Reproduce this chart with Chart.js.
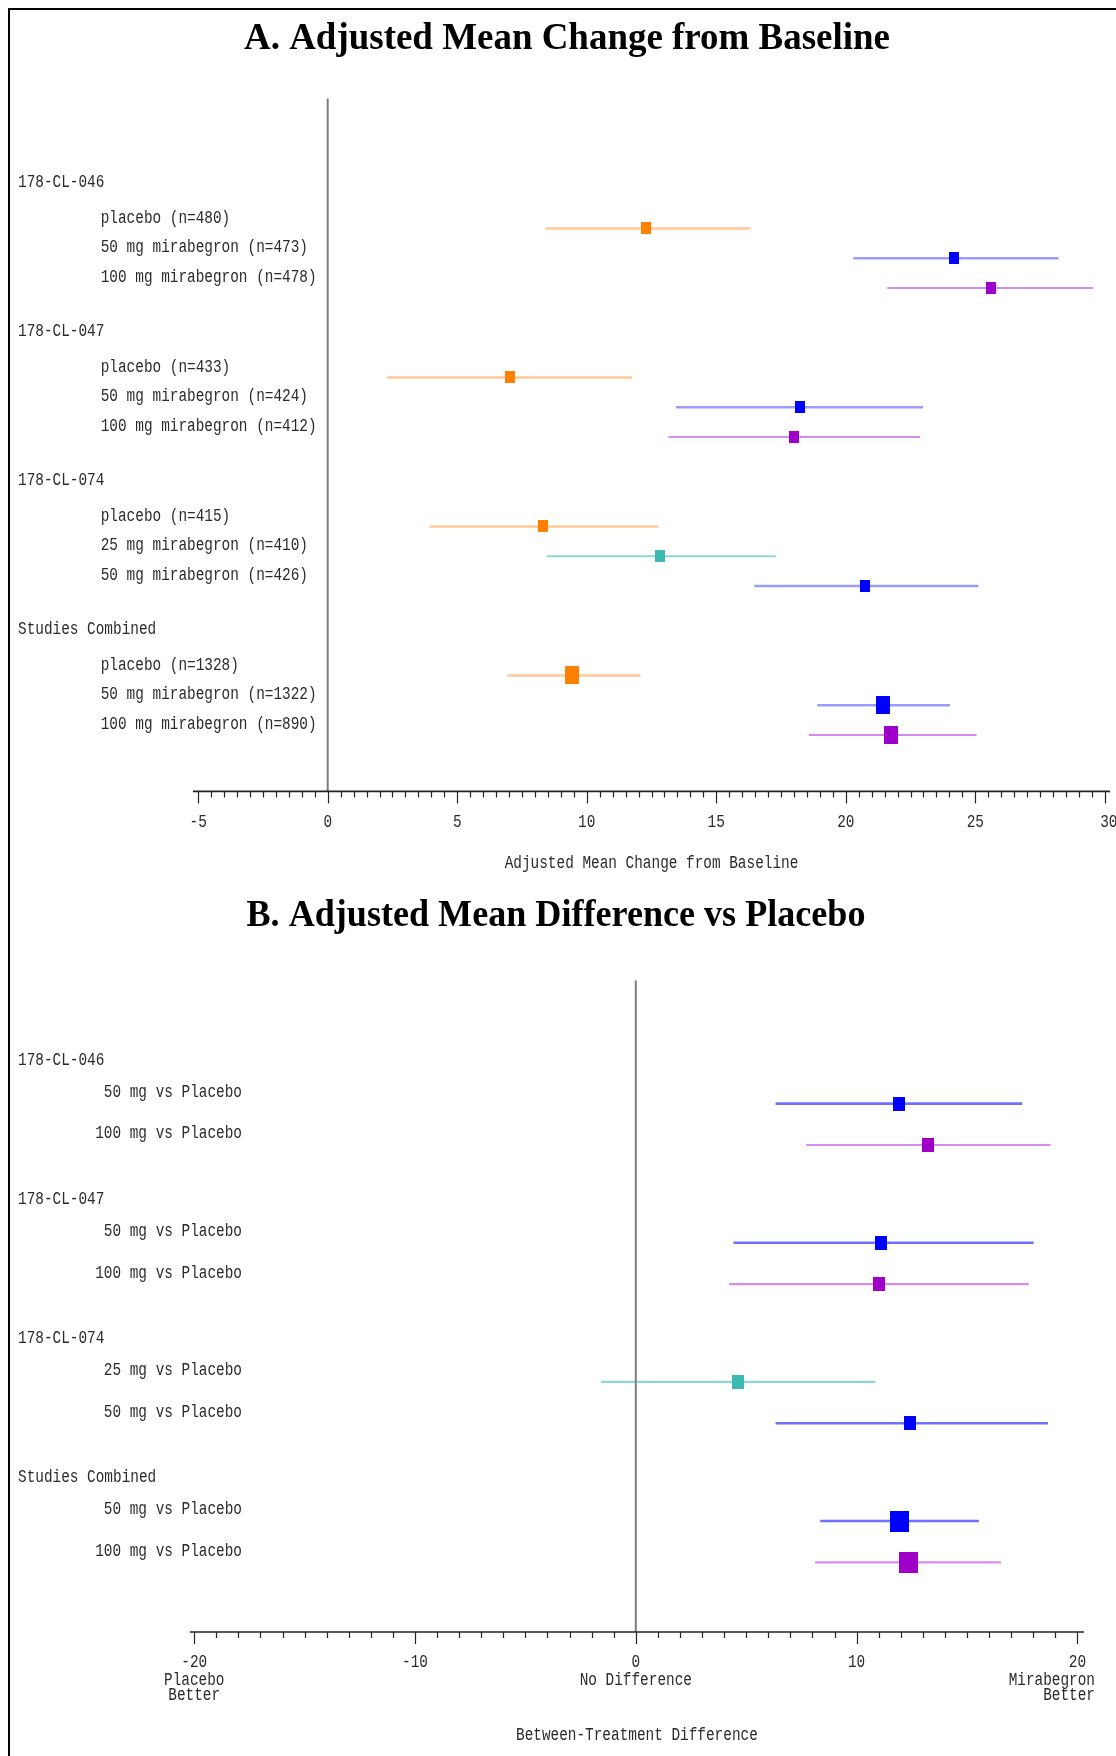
<!DOCTYPE html>
<html><head><meta charset="utf-8">
<script src="https://cdn.jsdelivr.net/npm/chart.js@4.4.1/dist/chart.umd.min.js"></script>
<style>
html,body{margin:0;padding:0;background:#fff;}
body{width:1116px;height:1756px;position:relative;overflow:hidden;}
#frame{position:absolute;left:8px;top:8px;width:1200px;height:1800px;border-left:2px solid #000;border-top:2px solid #000;pointer-events:none;}
#wa{position:absolute;left:0;top:0;width:1116px;height:880px;}
#wb{position:absolute;left:0;top:880px;width:1116px;height:876px;}
canvas{display:block;}
</style></head><body>
<div id="wa"><canvas id="ca" width="1116" height="880"></canvas></div>
<div id="wb"><canvas id="cb" width="1116" height="876"></canvas></div>
<div id="frame"></div>
<script>
// ---------------- DATA ----------------
const titleA = 'A. Adjusted Mean Change from Baseline';
const studies = ['178-CL-046', '178-CL-047', '178-CL-074', 'Studies Combined'];
const armLabelsA = [
  'placebo (n=480)', '50 mg mirabegron (n=473)', '100 mg mirabegron (n=478)',
  'placebo (n=433)', '50 mg mirabegron (n=424)', '100 mg mirabegron (n=412)',
  'placebo (n=415)', '25 mg mirabegron (n=410)', '50 mg mirabegron (n=426)',
  'placebo (n=1328)', '50 mg mirabegron (n=1322)', '100 mg mirabegron (n=890)'
];
const armStudyA = [0, 0, 0, 1, 1, 1, 2, 2, 2, 3, 3, 3];
const armDoseA = ['placebo', '50 mg', '100 mg', 'placebo', '50 mg', '100 mg', 'placebo', '25 mg', '50 mg', 'placebo', '50 mg', '100 mg'];
const meanA  = [12.27, 24.19, 25.59, 7.04, 18.23, 18.01, 8.32, 12.84, 20.76, 9.42, 21.45, 21.75];
const lowerA = [8.41, 20.29, 21.60, 2.30, 13.44, 13.15, 3.93, 8.45, 16.47, 6.92, 18.90, 18.57];
const upperA = [16.31, 28.21, 29.55, 11.76, 22.98, 22.87, 12.77, 17.30, 25.12, 12.07, 24.02, 25.05];
const xTicksA = [-5, 0, 5, 10, 15, 20, 25, 30];
const xTickLabelsA = ['-5', '0', '5', '10', '15', '20', '25', '30'];
const xTitleA = 'Adjusted Mean Change from Baseline';

const titleB = 'B. Adjusted Mean Difference vs Placebo';
const armLabelsB = [
  '50 mg vs Placebo', '100 mg vs Placebo',
  '50 mg vs Placebo', '100 mg vs Placebo',
  '25 mg vs Placebo', '50 mg vs Placebo',
  '50 mg vs Placebo', '100 mg vs Placebo'
];
const armStudyB = [0, 0, 1, 1, 2, 2, 3, 3];
const armDoseB = ['50 mg', '100 mg', '50 mg', '100 mg', '25 mg', '50 mg', '50 mg', '100 mg'];
const meanB  = [11.94, 13.24, 11.12, 11.02, 4.61, 12.43, 11.93, 12.33];
const lowerB = [6.33, 7.72, 4.43, 4.23, -1.58, 6.33, 8.35, 8.12];
const upperB = [17.50, 18.78, 18.02, 17.80, 10.86, 18.67, 15.54, 16.54];
const xTicksB = [-20, -10, 0, 10, 20];
const xTickLabelsB = ['-20', '-10', '0', '10', '20'];
const xSubLabelValuesB = [-20, 0, 20];
const xSubLabelsB = [['Placebo', 'Better'], ['No Difference'], ['Mirabegron', 'Better']];
const xTitleB = 'Between-Treatment Difference';

// ---------------- STYLE ----------------
const markerColor = {'placebo': '#FF7F00', '25 mg': '#3DB9B1', '50 mg': '#0000FF', '100 mg': '#9E00C9'};
const lineColorA = {'placebo': '#FFC894', '25 mg': '#8ED8D3', '50 mg': '#9C9CFF', '100 mg': '#D68CEC'};
const lineColorB = {'placebo': '#FFC894', '25 mg': '#8ED8D3', '50 mg': '#7070FF', '100 mg': '#D68CEC'};
const LABEL_FONT = '14.4px "Liberation Mono", "DejaVu Sans Mono", monospace';
const TEXT_COLOR = '#2b2b2b';
const STRETCH = 1.22;

function rectImg(w, h, color) {
  const c = document.createElement('canvas');
  c.width = w; c.height = h;
  const g = c.getContext('2d');
  g.fillStyle = color; g.fillRect(0, 0, w, h);
  return c;
}
function rowPositions(studyIdx, groupStep) {
  const pos = []; const count = {};
  studyIdx.forEach(s => { count[s] = (count[s] || 0); pos.push(s * groupStep + count[s]); count[s]++; });
  return pos;
}
function txt(ctx, s, x, y, align, font, sy, color) {
  ctx.save();
  ctx.font = font; ctx.fillStyle = color || TEXT_COLOR;
  ctx.textAlign = align; ctx.textBaseline = 'middle';
  ctx.translate(x, y); ctx.scale(1, sy);
  ctx.fillText(s, 0, 0);
  ctx.restore();
}
function titleTxt(ctx, s, cx, cy, targetW, font) {
  ctx.save();
  ctx.font = font; ctx.fillStyle = '#000';
  ctx.textAlign = 'center'; ctx.textBaseline = 'middle';
  const w = ctx.measureText(s).width;
  ctx.translate(cx, cy); ctx.scale(targetW / w, 1);
  ctx.fillText(s, 0, 0);
  ctx.restore();
}

function makePanel(canvasId, P) {
  const rows = rowPositions(P.study, P.groupStep);
  const datasets = [];
  const imgs = P.dose.map((d, i) => {
    const big = P.study[i] === 3;
    return rectImg(big ? P.bigW : P.smW, big ? P.bigH : P.smH, markerColor[d]);
  });
  datasets.push({
    type: 'scatter', order: 0,
    data: P.mean.map((m, i) => ({x: m, y: rows[i]})),
    pointStyle: imgs, pointRadius: 6, pointHoverRadius: 6,
    backgroundColor: P.dose.map(d => markerColor[d]), borderWidth: 0
  });
  P.mean.forEach((m, i) => {
    datasets.push({
      type: 'line', order: 1,
      data: [{x: P.lower[i], y: rows[i]}, {x: P.upper[i], y: rows[i]}],
      borderColor: P.lineColor[P.dose[i]], borderWidth: P.lineW[P.dose[i]],
      pointRadius: 0, showLine: true, fill: false
    });
  });

  const decor = {
    id: 'decor' + canvasId,
    afterDatasetsDraw(chart) {
      const ctx = chart.ctx, xs = chart.scales.x, ys = chart.scales.y, ca = chart.chartArea;
      // zero reference line
      const x0 = xs.getPixelForValue(0);
      ctx.save();
      ctx.strokeStyle = '#7d7d7d'; ctx.lineWidth = 2;
      ctx.beginPath(); ctx.moveTo(x0, ca.top); ctx.lineTo(x0, ca.bottom); ctx.stroke();
      // axis line
      ctx.strokeStyle = '#222'; ctx.lineWidth = 1.6;
      ctx.beginPath(); ctx.moveTo(ca.left, ca.bottom); ctx.lineTo(ca.right, ca.bottom); ctx.stroke();
      // minor + major ticks
      ctx.lineWidth = 1.2;
      const n = Math.round((P.xTicks[P.xTicks.length - 1] - P.xTicks[0]) / P.minorStep);
      for (let k = 0; k <= n; k++) {
        const v = P.xTicks[0] + k * P.minorStep;
        const isMajor = P.xTicks.some(t => Math.abs(t - v) < 1e-6);
        const px = Math.round(xs.getPixelForValue(v)) + 0.5;
        ctx.beginPath(); ctx.moveTo(px, ca.bottom); ctx.lineTo(px, ca.bottom + (isMajor ? 12 : 6)); ctx.stroke();
      }
      ctx.restore();
      // tick labels
      P.xTicks.forEach((t, i) => txt(ctx, P.xTickLabels[i], xs.getPixelForValue(t) + (P.tickShift[i] || 0), ca.bottom + P.tickLabelDy, 'center', LABEL_FONT, STRETCH));
      if (P.subLabels) {
        P.subValues.forEach((v, i) => {
          P.subLabels[i].forEach((s, j) => {
            const al = P.subAlign[i];
            const x = al === 'right' ? P.subRightX : xs.getPixelForValue(v);
            txt(ctx, s, x, ca.bottom + P.subDy + j * 15, al, LABEL_FONT, STRETCH);
          });
        });
      }
      // axis title
      txt(ctx, P.xTitle, (ca.left + ca.right) / 2, ca.bottom + P.xTitleDy, 'center', LABEL_FONT, STRETCH);
      // study headers and arm labels
      const firstRow = {};
      P.study.forEach((s, i) => { if (!(s in firstRow)) firstRow[s] = i; });
      studies.forEach((name, s) => {
        const y = ys.getPixelForValue(rows[firstRow[s]]) + P.headerDy;
        txt(ctx, name, 18, y, 'left', LABEL_FONT, STRETCH);
      });
      P.labels.forEach((lab, i) => {
        const y = ys.getPixelForValue(rows[i]) + P.labelDy;
        txt(ctx, lab, P.labelX, y, P.labelAlign, LABEL_FONT, STRETCH);
      });
      // panel title
      titleTxt(ctx, P.title, P.titleX, P.titleY, P.titleW, 'bold 37px "Liberation Serif", "Times New Roman", serif');
    }
  };

  return new Chart(document.getElementById(canvasId), {
    data: {datasets},
    options: {
      responsive: false, devicePixelRatio: 1, animation: false,
      layout: {padding: P.padding},
      plugins: {legend: {display: false}, tooltip: {enabled: false}, title: {display: false}},
      events: [],
      scales: {
        x: {type: 'linear', display: false, min: P.xMin, max: P.xMax},
        y: {type: 'linear', display: false, reverse: true, min: P.yMin, max: P.yMax}
      }
    },
    plugins: [decor]
  });
}

makePanel('ca', {
  title: titleA, titleX: 567, titleY: 39, titleW: 646,
  labels: armLabelsA, study: armStudyA, dose: armDoseA,
  mean: meanA, lower: lowerA, upper: upperA,
  groupStep: 5, xMin: -5.2, xMax: 30.2, yMin: -4.36, yMax: 18.89,
  padding: {left: 193, right: 3.7, top: 98.5, bottom: 88.6},
  lineColor: lineColorA, lineW: {'placebo': 2.5, '25 mg': 2.2, '50 mg': 2.6, '100 mg': 2},
  smW: 10, smH: 12, bigW: 14, bigH: 18,
  xTicks: xTicksA, xTickLabels: xTickLabelsA, minorStep: 0.5, tickShift: {7: 4},
  tickLabelDy: 31, xTitle: xTitleA, xTitleDy: 72,
  headerDy: -45.9, labelDy: -10.5, labelX: 100.7, labelAlign: 'left'
});

makePanel('cb', {
  title: titleB, titleX: 556, titleY: 36, titleW: 619,
  labels: armLabelsB, study: armStudyB, dose: armDoseB,
  mean: meanB, lower: lowerB, upper: upperB,
  groupStep: 3.36, xMin: -20.2, xMax: 20.3, yMin: -2.97, yMax: 12.76,
  padding: {left: 189.8, right: 32, top: 100.6, bottom: 124},
  lineColor: lineColorB, lineW: {'placebo': 2.5, '25 mg': 2.2, '50 mg': 2.6, '100 mg': 2.2},
  smW: 12, smH: 14, bigW: 19, bigH: 21,
  xTicks: xTicksB, xTickLabels: xTickLabelsB, minorStep: 1, tickShift: {},
  tickLabelDy: 30, subValues: xSubLabelValuesB, subLabels: xSubLabelsB,
  subAlign: ['center', 'center', 'right'], subRightX: 1095, subDy: 48,
  xTitle: xTitleB, xTitleDy: 103,
  headerDy: -43.7, labelDy: -11.2, labelX: 242, labelAlign: 'right'
});
</script>
</body></html>
